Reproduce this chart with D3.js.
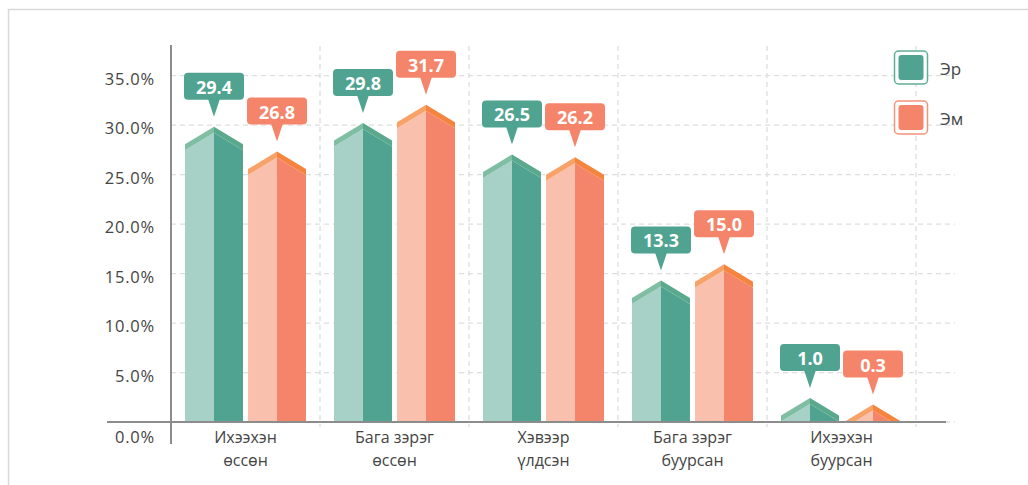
<!DOCTYPE html>
<html>
<head>
<meta charset="utf-8">
<script src="https://cdn.jsdelivr.net/npm/d3@7"></script>
<style>
  html, body { margin: 0; padding: 0; background: #fff; }
  svg { display: block; }
  text { font-family: "Open Sans", "Noto Sans", sans-serif; }
</style>
</head>
<body>
<svg id="chart" width="1028" height="485"></svg>
<script>
// ---- data ----
const categories = ["Ихээхэн өссөн", "Бага зэрэг өссөн", "Хэвээр үлдсэн", "Бага зэрэг буурсан", "Ихээхэн буурсан"];
const seriesNames = ["Эр", "Эм"];
const erValues = [29.4, 29.8, 26.5, 13.3, 1.0];
const emValues = [26.8, 31.7, 26.2, 15.0, 0.3];
const yTicks = [0, 5, 10, 15, 20, 25, 30, 35];

// ---- styles ----
const palette = {
  "Эр": { light: "#a7d1c7", dark: "#4fa390", lstrip: "#7fbea3", rstrip: "#5aa98d", label: "#4fa390", outline: "#5fae97" },
  "Эм": { light: "#f9c0ae", dark: "#f5856a", lstrip: "#f9a267", rstrip: "#f4843e", label: "#f5856a", outline: "#f5937a" }
};

const svg = d3.select("#chart");

// frame
svg.append("path").attr("d", "M8.5,485 V9.5 H1028").attr("fill", "none").attr("stroke", "#d9d9d9").attr("stroke-width", 1.5);

const x = d3.scaleBand().domain(categories).range([171, 916]);
const xs = d3.scaleBand().domain(seriesNames).range([-60.5, 60.5]).paddingInner(0.08);
const y = d3.scaleLinear().domain([0, 35]).range([422, 75.7]);
// bar body scale (the roof sits on top of the body)
const yBody = d3.scaleLinear().domain([0, 35]).range([425, 425 - 334.25]);
const roof = 17.5, strip = 6;

// grid
const grid = svg.append("g");
grid.selectAll("line.h").data(yTicks).join("line")
  .attr("x1", 171).attr("x2", 955)
  .attr("y1", d => y(d)).attr("y2", d => y(d))
  .attr("stroke", "#dedede").attr("stroke-width", 1.3).attr("stroke-dasharray", "5,4");
grid.selectAll("line.v").data(categories).join("line")
  .attr("x1", d => x(d) + x.bandwidth()).attr("x2", d => x(d) + x.bandwidth())
  .attr("y1", 46).attr("y2", 427)
  .attr("stroke", "#dedede").attr("stroke-width", 1.3).attr("stroke-dasharray", "5,4");

// bars
const clip = svg.append("defs").append("clipPath").attr("id", "plotclip");
clip.append("rect").attr("x", 0).attr("y", 0).attr("width", 1028).attr("height", y(0));

const bars = [];
categories.forEach((c, i) => {
  bars.push({ cat: c, s: "Эр", v: erValues[i] });
  bars.push({ cat: c, s: "Эм", v: emValues[i] });
});

const barG = svg.append("g").attr("clip-path", "url(#plotclip)");
const base = y(0);
bars.forEach(b => {
  const x0 = x(b.cat) + x.bandwidth() / 2 + xs(b.s);
  const x1 = x0 + xs.bandwidth();
  const xm = (x0 + x1) / 2;
  const sh = Math.min(base, yBody(b.v));
  const pk = sh - roof;
  b.cx = xm; b.pk = pk;
  const col = palette[b.s];
  const g = barG.append("g");
  g.append("polygon").attr("points", [[x0, base], [x0, sh + strip], [xm, pk + strip], [xm, base]].join(" ")).attr("fill", col.light);
  g.append("polygon").attr("points", [[xm, base], [xm, pk + strip], [x1, sh + strip], [x1, base]].join(" ")).attr("fill", col.dark);
  g.append("polygon").attr("points", [[x0, sh], [xm, pk], [xm, pk + strip], [x0, sh + strip]].join(" ")).attr("fill", col.lstrip);
  g.append("polygon").attr("points", [[xm, pk], [x1, sh], [x1, sh + strip], [xm, pk + strip]].join(" ")).attr("fill", col.rstrip);
});

// axes
svg.append("line").attr("x1", 107).attr("x2", 946).attr("y1", base).attr("y2", base)
  .attr("stroke", "#8c8c8c").attr("stroke-width", 2);
svg.append("line").attr("x1", 171).attr("x2", 171).attr("y1", 45).attr("y2", 444)
  .attr("stroke", "#8c8c8c").attr("stroke-width", 2);

// y tick labels
const yAxis = d3.axisLeft(y).tickValues(yTicks).tickSize(0).tickPadding(0)
  .tickFormat(d => d3.format(".1f")(d) + "%");
const ya = svg.append("g").attr("transform", "translate(155,0)").call(yAxis);
ya.select(".domain").remove();
ya.selectAll("text")
  .attr("font-family", "'Open Sans', 'Noto Sans', sans-serif")
  .attr("font-size", 16.5).attr("fill", "#444").attr("letter-spacing", 0.8)
  .attr("dy", null).attr("dominant-baseline", "central")
  .attr("y", d => d === 0 ? 14 : 2);

// x category labels
const xl = svg.append("g");
categories.forEach(c => {
  const k = c.lastIndexOf(" ");
  const lines = [c.slice(0, k), c.slice(k + 1)];
  const t = xl.append("text").attr("x", x(c) + x.bandwidth() / 2).attr("text-anchor", "middle")
    .attr("font-size", 16).attr("fill", "#444");
  lines.forEach((ln, j) => {
    t.append("tspan").attr("x", x(c) + x.bandwidth() / 2).attr("y", 443 + j * 23).text(ln);
  });
});

// value callouts
const lab = svg.append("g");
bars.forEach(b => {
  const col = palette[b.s];
  const tip = b.pk - 10;
  const bb = tip - 17;
  const bt = bb - 27;
  lab.append("path").attr("d", `M${b.cx - 6},${bb - 1} L${b.cx + 6},${bb - 1} L${b.cx},${tip} Z`).attr("fill", col.label);
  lab.append("rect").attr("x", b.cx - 30).attr("y", bt).attr("width", 60).attr("height", 27).attr("rx", 4)
    .attr("fill", col.label);
  lab.append("text").attr("x", b.cx).attr("y", bt + 14).attr("text-anchor", "middle")
    .attr("dominant-baseline", "central")
    .attr("font-family", "'Liberation Sans', Arial, sans-serif").attr("font-weight", 700)
    .attr("font-size", 18).attr("fill", "#fff").text(d3.format(".1f")(b.v));
});

// legend
const leg = svg.append("g");
seriesNames.forEach((s, i) => {
  const col = palette[s];
  const g = leg.append("g").attr("transform", `translate(894.5,${51 + i * 50})`);
  g.append("rect").attr("width", 33).attr("height", 33).attr("rx", 4)
    .attr("fill", "#fff").attr("stroke", col.outline).attr("stroke-width", 1.5);
  g.append("rect").attr("x", 4).attr("y", 4).attr("width", 25).attr("height", 25).attr("rx", 3)
    .attr("fill", col.label);
  g.append("text").attr("x", 45.5).attr("y", 17).attr("dominant-baseline", "central")
    .attr("font-size", 17).attr("fill", "#444").text(s);
});
</script>
</body>
</html>
